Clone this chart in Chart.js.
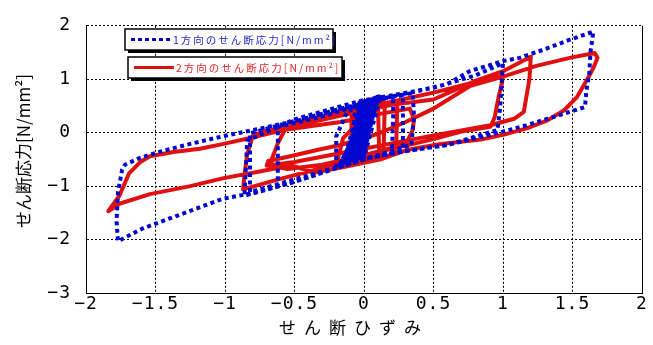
<!DOCTYPE html>
<html>
<head>
<meta charset="utf-8">
<script src="https://cdn.jsdelivr.net/npm/chart.js@4"></script>
<style>
  html, body { margin: 0; padding: 0; background: #fff; }
</style>
</head>
<body>
<canvas id="c" width="653" height="345"></canvas>
<script>
// 目盛
const xTicks = [-2, -1.5, -1, -0.5, 0, 0.5, 1, 1.5, 2];
const yTicks = [-3, -2, -1, 0, 1, 2];

// 系列名・軸タイトル
const seriesNames = ['1方向のせん断応力[N/mm²]', '2方向のせん断応力[N/mm²]'];
const xTitle = 'せん断ひずみ';
const yTitle = 'せん断応力[N/mm²]';

// 1方向 (青・点線)
const blueX = [0.00, 0.05, -0.07, 0.08, -0.10, 0.10, -0.13, 0.02, -0.16, 0.11, -0.04, 0.07, -0.18, 0.12, 0.00, -0.02, -0.12, 0.04, -0.08,
  0.03, -0.09, 0.06, -0.05, 0.09, -0.11, 0.00, -0.14, 0.08, -0.01, 0.10, -0.15, -0.03, -0.06, 0.05, -0.17, 0.11, -0.03, 0.01, -0.10,
  -0.06, 0.21, 0.21, 0.20, 0.00, -0.20, -0.20, -0.12, 0.10, 0.28, 0.28, 0.00, -0.30, -0.62, -0.62, -0.30, 0.00, 0.20, 0.35, 0.36, 0.34,
  0.00, -0.40, -0.82, -0.82, -0.50, -0.20, 0.12, 0.50, 0.80, 1.00, 0.99, 0.98, 0.96, 0.60, 0.29, -0.02, -0.23, -0.51, -0.86,
  -0.84, -0.50, -0.02, 0.34, 0.60, 0.76, 1.00, 1.12, 1.32, 1.48, 1.65, 1.63, 1.62, 1.60, 1.59, 1.48, 1.32, 1.17, 1.00, 0.86,
  0.60, 0.29, -0.02, -0.23, -0.51, -0.82, -1.02, -1.33, -1.59, -1.77, -1.78, -1.77, -1.74, -1.72, -1.62, -1.49, -1.25, -1.02,
  -0.74, -0.46, -0.17, 0.00];
const blueY = [0.00, 0.64, -0.52, 0.67, -0.55, 0.69, -0.58, 0.62, -0.60, 0.70, -0.50, 0.66, -0.62, 0.70, -0.48, 0.58, -0.57, 0.64, -0.53,
  0.63, -0.54, 0.65, -0.51, 0.68, -0.56, 0.60, -0.59, 0.67, -0.49, 0.69, -0.60, 0.59, -0.52, 0.65, -0.61, 0.70, -0.50, 0.62, -0.55,
  0.50, 0.68, 0.30, -0.38, -0.50, -0.67, -0.07, 0.40, 0.62, 0.70, -0.32, -0.49, -0.73, -1.00, 0.11, 0.30, 0.55, 0.68, 0.74, 0.30, -0.23,
  -0.50, -0.80, -1.11, -0.01, 0.22, 0.42, 0.66, 0.84, 1.07, 1.30, 0.91, 0.48, 0.05, -0.23, -0.35, -0.50, -0.69, -0.93, -1.18,
  -0.15, 0.25, 0.60, 0.75, 0.91, 1.15, 1.34, 1.40, 1.58, 1.74, 1.89, 1.52, 1.09, 0.79, 0.48, 0.39, 0.26, 0.14, 0.02, -0.07,
  -0.23, -0.35, -0.50, -0.69, -0.93, -1.14, -1.24, -1.54, -1.79, -2.03, -1.66, -1.11, -0.69, -0.60, -0.48, -0.37, -0.21, -0.07,
  0.08, 0.24, 0.45, 0.55];

// 2方向 (赤・実線)
const redX = [0.00, 0.10, 0.11, -0.04, -0.04, 0.15, 0.14, -0.09, -0.09, 0.05, 0.24, 0.23, -0.05, -0.20, -0.15, 0.00, 0.33, 0.36, 0.35, 0.31,
  0.23, 0.00, -0.30, -0.55, -0.67, -0.66, -0.62, -0.57, -0.50, -0.30, -0.10, 0.20, 0.50, 0.76, 1.00, 0.99, 0.97, 0.94, 0.91,
  0.70, 0.50, 0.20, 0.00, -0.30, -0.61, -0.87, -0.86, -0.84, -0.80, -0.70, -0.50, -0.20, 0.20, 0.50, 0.80, 1.00, 1.20,
  1.19, 1.16, 1.15, 1.08, 0.91, 0.70, 0.50, 0.20, -0.20, -0.50, -0.70, -0.69, -0.53, -0.33, -0.17, 0.10, 0.30, 0.50,
  0.76, 1.00, 1.24, 1.48, 1.66, 1.68, 1.65, 1.60, 1.53, 1.44, 1.32, 1.17, 1.00, 0.84, 0.55, 0.30, 0.12, -0.12, -0.36,
  -0.52, -0.76, -1.01, -1.25, -1.54, -1.76, -1.84, -1.76, -1.69, -1.61, -1.54, -1.37, -1.18, -1.01, -0.82, -0.58, -0.17, 0.00];
const redY = [0.00, 0.55, -0.44, -0.50, 0.45, 0.57, -0.42, -0.55, 0.29, 0.45, 0.55, -0.40, -0.55, -0.62, -0.10, 0.30, 0.45, 0.25, 0.05, -0.17,
  -0.26, -0.42, -0.60, -0.68, -0.62, -0.47, -0.20, 0.05, 0.18, 0.30, 0.42, 0.58, 0.75, 0.92, 1.06, 0.90, 0.69, 0.29, 0.11,
  0.02, -0.12, -0.30, -0.42, -0.66, -0.87, -1.06, -0.80, -0.40, -0.06, 0.04, 0.12, 0.30, 0.52, 0.62, 0.97, 1.15, 1.42,
  1.00, 0.55, 0.39, 0.26, 0.14, 0.04, -0.05, -0.20, -0.40, -0.55, -0.62, -0.53, -0.44, -0.32, -0.23, -0.02, 0.20, 0.45,
  0.87, 1.05, 1.25, 1.40, 1.49, 1.40, 1.21, 0.97, 0.66, 0.42, 0.23, 0.08, -0.04, -0.13, -0.21, -0.33, -0.50, -0.63, -0.75,
  -0.61, -0.73, -0.85, -1.00, -1.15, -1.33, -1.47, -1.18, -0.76, -0.55, -0.44, -0.36, -0.30, -0.21, -0.10, 0.05, 0.20, 0.28];

const BLUE = '#0008d0';
const RED = '#e01010';
const zip = (xs, ys) => xs.map((x, i) => ({ x: x, y: ys[i] }));
const fmt = v => (v < 0 ? '\u2212' + Math.abs(v) : String(v));

// 凡例 (枠付き・影付き)
const legendBoxes = {
  id: 'legendBoxes',
  afterDraw(chart) {
    const ctx = chart.ctx;
    const boxes = [
      { x: 125, y: 29, w: 208, h: 21, color: BLUE, text: '#2a2ac8', dash: [4, 3] },
      { x: 128, y: 57, w: 214, h: 21, color: RED, text: '#e02828', dash: [] }
    ];
    boxes.forEach((b, i) => {
      ctx.save();
      ctx.fillStyle = '#000';
      ctx.fillRect(b.x + 3, b.y + 3, b.w, b.h);
      ctx.fillStyle = '#fff';
      ctx.fillRect(b.x, b.y, b.w, b.h);
      ctx.strokeStyle = '#000';
      ctx.lineWidth = 1.5;
      ctx.strokeRect(b.x, b.y, b.w, b.h);
      const cy = b.y + b.h / 2;
      ctx.beginPath();
      ctx.setLineDash(b.dash);
      ctx.strokeStyle = b.color;
      ctx.lineWidth = 3;
      ctx.moveTo(b.x + 6, cy);
      ctx.lineTo(b.x + 46, cy);
      ctx.stroke();
      ctx.setLineDash([]);
      ctx.letterSpacing = '2px';
      ctx.font = '10.5px "Noto Sans CJK JP"';
      ctx.fillStyle = b.text;
      ctx.textBaseline = 'middle';
      ctx.textAlign = 'left';
      ctx.fillText(seriesNames[i], b.x + 48, cy + 1);
      ctx.restore();
    });
  }
};

// 右枠・軸タイトル
const frameAndTitle = {
  id: 'frameAndTitle',
  beforeDraw(chart) {
    chart.ctx.letterSpacing = '1px';
  },
  afterDraw(chart) {
    const ctx = chart.ctx;
    const a = chart.chartArea;
    ctx.save();
    ctx.strokeStyle = '#000';
    ctx.lineWidth = 1;
    ctx.beginPath();
    ctx.moveTo(a.right + 0.5, a.top);
    ctx.lineTo(a.right + 0.5, a.bottom);
    ctx.stroke();
    ctx.fillStyle = '#000';
    ctx.textAlign = 'center';
    ctx.textBaseline = 'middle';
    ctx.letterSpacing = '8px';
    ctx.font = '17px "Noto Sans CJK JP"';
    ctx.fillText(xTitle, 354, 328);
    ctx.letterSpacing = '0px';
    ctx.translate(24, 151);
    ctx.rotate(-Math.PI / 2);
    ctx.font = '17px "Noto Sans CJK JP"';
    ctx.fillText(yTitle, 0, 0);
    ctx.restore();
  }
};

const gridOpts = { color: '#000', lineWidth: 1, drawTicks: false };
const borderOpts = { display: true, color: '#000', width: 1, dash: [2, 2] };

new Chart(document.getElementById('c'), {
  type: 'scatter',
  data: {
    datasets: [
      {
        label: seriesNames[0],
        data: zip(blueX, blueY),
        showLine: true,
        borderColor: BLUE,
        borderWidth: 4,
        borderDash: [4, 3.5],
        borderJoinStyle: 'bevel',
        pointRadius: 0,
        tension: 0
      },
      {
        label: seriesNames[1],
        data: zip(redX, redY),
        showLine: true,
        borderColor: RED,
        borderWidth: 4,
        borderJoinStyle: 'round',
        borderCapStyle: 'round',
        pointRadius: 0,
        tension: 0
      }
    ]
  },
  options: {
    responsive: false,
    devicePixelRatio: 1,
    animation: false,
    layout: { padding: { left: 0, right: 11, top: 21, bottom: 0 } },
    plugins: { legend: { display: false }, tooltip: { enabled: false } },
    scales: {
      x: {
        type: 'linear',
        min: -2,
        max: 2,
        afterBuildTicks: s => { s.ticks = xTicks.map(v => ({ value: v })); },
        afterFit: s => { s.height = 52; },
        ticks: {
          callback: fmt,
          color: '#000',
          padding: 1,
          maxRotation: 0,
          autoSkip: false,
          font: { family: '"DejaVu Sans Mono"', size: 18 }
        },
        grid: gridOpts,
        border: borderOpts
      },
      y: {
        type: 'linear',
        min: -3,
        max: 2,
        afterBuildTicks: s => { s.ticks = yTicks.map(v => ({ value: v })); },
        afterFit: s => { s.width = 86; },
        ticks: {
          callback: fmt,
          color: '#000',
          padding: 15,
          autoSkip: false,
          font: { family: '"DejaVu Sans Mono"', size: 18 }
        },
        grid: gridOpts,
        border: borderOpts
      }
    }
  },
  plugins: [legendBoxes, frameAndTitle]
});
</script>
</body>
</html>
